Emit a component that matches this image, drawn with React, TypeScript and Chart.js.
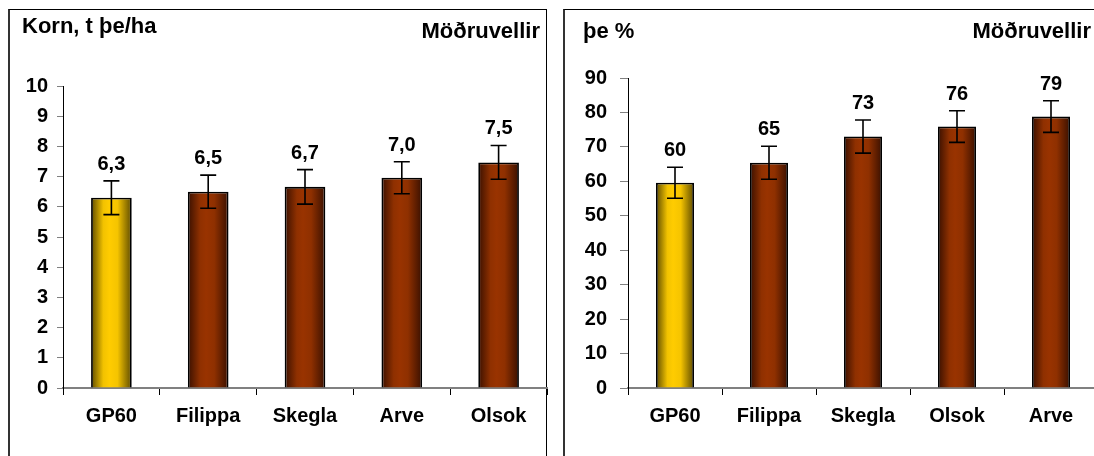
import React, { useEffect, useRef } from 'react';
import { Chart, registerables } from 'chart.js';

Chart.register(...registerables);

// ---- Data ----
const yieldCategories = ['GP60', 'Filippa', 'Skegla', 'Arve', 'Olsok'];
const yieldValues = [6.3, 6.5, 6.66, 6.96, 7.47];
const yieldErrors = [0.56, 0.55, 0.57, 0.53, 0.56];
const yieldYMax = 10;
const yieldYStep = 1;

const dmCategories = ['GP60', 'Filippa', 'Skegla', 'Olsok', 'Arve'];
const dmValues = [59.6, 65.4, 73.0, 75.9, 78.8];
const dmErrors = [4.5, 4.8, 4.8, 4.6, 4.6];
const dmYMax = 90;
const dmYStep = 10;

const FONT = 'Arial, "Liberation Sans", sans-serif';

type PanelProps = {
  categories: string[];
  values: number[];
  errors: number[];
  yMax: number;
  yStep: number;
  format: (v: number) => string;
  title: string;
  site: string;
  canvasLeft: number;
  canvasWidth: number;
  yAxisWidth: number;
  yTickLen: number;
  yTickPad: number;
  padTop: number;
  padRight: number;
  barPct: number;
  titlePos: [number, number];
  sitePos: [number, number];
};

function Panel(p: PanelProps) {
  const ref = useRef<HTMLCanvasElement | null>(null);
  useEffect(() => {
    const canvas = ref.current;
    if (!canvas) return;
    const n = p.categories.length;

    const bg = (c: any) => {
      const chart = c.chart;
      const xs = chart.scales && chart.scales.x;
      const i = c.dataIndex;
      const gold = i === 0;
      if (!xs || !chart.chartArea || i === undefined) return gold ? '#FFCC00' : '#993300';
      const cx = xs.getPixelForValue(i);
      const hw = (xs.width / n) * p.barPct / 2;
      const g = chart.ctx.createLinearGradient(cx - hw, 0, cx + hw, 0);
      if (gold) {
        g.addColorStop(0, '#5e4b00');
        g.addColorStop(0.3, '#f2c200');
        g.addColorStop(0.45, '#ffcc00');
        g.addColorStop(0.65, '#f5c400');
        g.addColorStop(1, '#5e4b00');
      } else {
        g.addColorStop(0, '#3a1000');
        g.addColorStop(0.3, '#8f3000');
        g.addColorStop(0.45, '#993300');
        g.addColorStop(0.65, '#8f3000');
        g.addColorStop(1, '#3a1000');
      }
      return g;
    };

    const overlay = {
      id: 'overlay',
      afterDatasetsDraw(chart: any) {
        const ctx = chart.ctx;
        const ys = chart.scales.y;
        const meta = chart.getDatasetMeta(0);
        ctx.save();
        ctx.strokeStyle = '#000';
        ctx.lineWidth = 1.6;
        ctx.fillStyle = '#000';
        ctx.font = `bold 20px ${FONT}`;
        ctx.textAlign = 'center';
        ctx.textBaseline = 'alphabetic';
        p.values.forEach((v, i) => {
          const x = meta.data[i].x;
          const yT = ys.getPixelForValue(v + p.errors[i]);
          const yB = ys.getPixelForValue(v - p.errors[i]);
          ctx.beginPath();
          ctx.moveTo(x, yT);
          ctx.lineTo(x, yB);
          ctx.moveTo(x - 8, yT);
          ctx.lineTo(x + 8, yT);
          ctx.moveTo(x - 8, yB);
          ctx.lineTo(x + 8, yB);
          ctx.stroke();
          ctx.fillText(p.format(v), x, yT - 11);
        });
        ctx.restore();
      },
      afterDraw(chart: any) {
        const ctx = chart.ctx;
        ctx.save();
        ctx.fillStyle = '#000';
        ctx.font = `bold 22px ${FONT}`;
        ctx.textBaseline = 'alphabetic';
        ctx.textAlign = 'left';
        ctx.fillText(p.title, p.titlePos[0], p.titlePos[1]);
        ctx.textAlign = 'right';
        ctx.fillText(p.site, p.sitePos[0], p.sitePos[1]);
        ctx.restore();
      },
    };

    const chart = new Chart(canvas, {
      type: 'bar',
      data: {
        labels: p.categories,
        datasets: [
          {
            data: p.values,
            backgroundColor: bg as any,
            borderColor: '#000',
            borderWidth: 1.8,
            barPercentage: p.barPct,
            categoryPercentage: 1,
          },
        ],
      },
      options: {
        responsive: false,
        animation: false,
        devicePixelRatio: 1,
        layout: { padding: { top: p.padTop, right: p.padRight, left: 0, bottom: 0 } },
        plugins: {
          legend: { display: false },
          tooltip: { enabled: false },
          title: { display: false },
        },
        scales: {
          x: {
            grid: {
              display: true,
              drawOnChartArea: false,
              drawTicks: true,
              tickLength: 7,
              color: '#000',
              offset: true,
            },
            border: { display: true, color: '#808080', width: 2 },
            ticks: {
              color: '#000',
              font: { family: FONT, size: 20, weight: 'bold' },
              padding: 9,
              maxRotation: 0,
              autoSkip: false,
            },
            afterFit: (s: any) => {
              s.height = 68;
            },
          },
          y: {
            min: 0,
            max: p.yMax,
            ticks: {
              stepSize: p.yStep,
              color: '#000',
              font: { family: FONT, size: 20, weight: 'bold' },
              padding: p.yTickPad,
            },
            grid: {
              display: true,
              drawOnChartArea: false,
              drawTicks: true,
              tickLength: p.yTickLen,
              color: '#808080',
            },
            border: { display: true, color: '#000', width: 1 },
            afterFit: (s: any) => {
              s.width = p.yAxisWidth;
            },
          },
        },
      } as any,
      plugins: [overlay],
    });
    return () => chart.destroy();
  }, []);

  return (
    <canvas
      ref={ref}
      width={p.canvasWidth}
      height={456}
      style={{
        position: 'absolute',
        left: p.canvasLeft,
        top: 0,
        width: p.canvasWidth,
        height: 456,
      }}
    />
  );
}

export default function App() {
  return (
    <div
      style={{
        position: 'fixed',
        left: 0,
        top: 0,
        width: 1094,
        height: 456,
        overflow: 'hidden',
        background: '#fff',
      }}
    >
      <div
        style={{
          position: 'absolute',
          left: 8,
          top: 9,
          width: 536,
          height: 470,
          borderTop: '1px solid #000',
          borderRight: '1px solid #000',
          borderLeft: '2px solid #333',
        }}
      />
      <div
        style={{
          position: 'absolute',
          left: 563,
          top: 9,
          width: 560,
          height: 470,
          borderTop: '1px solid #000',
          borderLeft: '2px solid #333',
        }}
      />
      <Panel
        categories={yieldCategories}
        values={yieldValues}
        errors={yieldErrors}
        yMax={yieldYMax}
        yStep={yieldYStep}
        format={(v) => v.toFixed(1).replace('.', ',')}
        title="Korn, t þe/ha"
        site="Möðruvellir"
        canvasLeft={0}
        canvasWidth={560}
        yAxisWidth={63}
        yTickLen={6}
        yTickPad={9}
        padTop={86}
        padRight={13}
        barPct={0.42}
        titlePos={[22, 33]}
        sitePos={[540, 38]}
      />
      <Panel
        categories={dmCategories}
        values={dmValues}
        errors={dmErrors}
        yMax={dmYMax}
        yStep={dmYStep}
        format={(v) => String(Math.round(v))}
        title="þe %"
        site="Möðruvellir"
        canvasLeft={560}
        canvasWidth={540}
        yAxisWidth={68}
        yTickLen={8}
        yTickPad={13}
        padTop={78}
        padRight={2}
        barPct={0.405}
        titlePos={[23, 38]}
        sitePos={[531, 38]}
      />
    </div>
  );
}
